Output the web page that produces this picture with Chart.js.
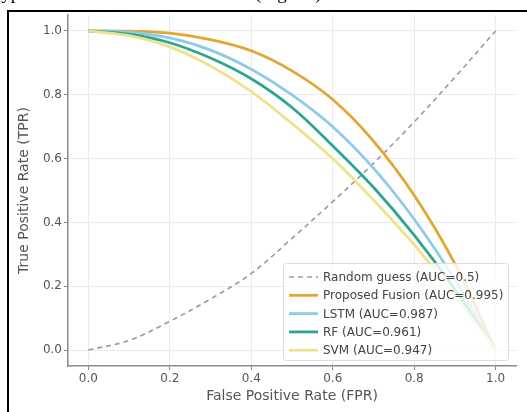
<!DOCTYPE html>
<html>
<head>
<meta charset="utf-8">
<script src="https://cdn.jsdelivr.net/npm/chart.js@4"></script>
<style>
  html, body { margin: 0; padding: 0; background: #fff; }
  body { width: 527px; height: 412px; position: relative; overflow: hidden; }
  #roc { position: absolute; left: 0; top: 0; }
  .frame { position: absolute; left: 7px; top: 10px; width: 600px; height: 500px;
           border-left: 2px solid #000; border-top: 2px solid #000; pointer-events: none; }
  .clip { position: absolute; top: -18px; font: 19px "Liberation Serif", serif; color: #000; white-space: nowrap; }
</style>
</head>
<body>
<canvas id="roc" width="527" height="412"></canvas>
<div class="clip" style="left:-4px">typ</div>
<div class="clip" style="left:255px">(Fig. 10)</div>
<div class="frame"></div>
<script>
// FPR grid shared by every curve
const fprGrid = [0.0, 0.1, 0.2, 0.3, 0.4, 0.5, 0.6, 0.7, 0.8, 0.9, 1.0];

// TPR
const randomTpr = [0.0, 0.03, 0.09, 0.16, 0.24, 0.35, 0.465, 0.585, 0.715, 0.855, 1.0];
const fusionTpr = [1.0, 0.999, 0.993, 0.973, 0.938, 0.875, 0.785, 0.655, 0.485, 0.27, 0.0];
const lstmTpr   = [1.0, 0.996, 0.978, 0.94, 0.88, 0.80, 0.70, 0.57, 0.41, 0.22, 0.0];
const rfTpr     = [1.0, 0.99, 0.963, 0.915, 0.85, 0.76, 0.64, 0.51, 0.36, 0.19, 0.0];
const svmTpr    = [1.0, 0.985, 0.95, 0.89, 0.81, 0.71, 0.60, 0.47, 0.33, 0.17, 0.0];

const seriesLabels = [
    'Random guess (AUC=0.5)',
    'Proposed Fusion (AUC=0.995)',
    'LSTM (AUC=0.987)',
    'RF (AUC=0.961)',
    'SVM (AUC=0.947)'
];
const axisTicks = [0.0, 0.2, 0.4, 0.6, 0.8, 1.0];

const colors = ['#9a9a9a', '#e3a632', '#8ecbea', '#2fa58e', '#efe28c'];
const allTpr = [randomTpr, fusionTpr, lstmTpr, rfTpr, svmTpr];

function toPoints(ys) {
    return fprGrid.map((x, i) => ({ x: x, y: ys[i] }));
}

const datasets = allTpr.map((ys, i) => ({
    label: seriesLabels[i],
    data: toPoints(ys),
    showLine: true,
    borderColor: colors[i],
    backgroundColor: colors[i],
    borderWidth: i === 0 ? 1.6 : 2.8,
    borderDash: i === 0 ? [5, 4] : [],
    pointRadius: 0,
    tension: 0.35,
    order: allTpr.length - i   // later series on top, like matplotlib
}));

// legend box in the lower right corner of the plot
const boxLegend = {
    id: 'boxLegend',
    afterDraw(chart) {
        const ctx = chart.ctx;
        const area = chart.chartArea;
        const w = 225, h = 97;
        const x0 = area.right - 8 - w;
        const y0 = area.bottom - 6 - h;
        ctx.save();
        ctx.fillStyle = 'rgba(255,255,255,0.8)';
        ctx.strokeStyle = '#dddddd';
        ctx.lineWidth = 1;
        ctx.beginPath();
        ctx.roundRect(x0 + 0.5, y0 + 0.5, w, h, 3);
        ctx.fill();
        ctx.stroke();
        ctx.font = '12px "DejaVu Sans"';
        ctx.textBaseline = 'middle';
        chart.data.datasets.forEach((ds, i) => {
            const yy = y0 + 14 + i * 18.3;
            ctx.strokeStyle = ds.borderColor;
            ctx.lineWidth = ds.borderWidth;
            ctx.setLineDash(ds.borderDash);
            ctx.beginPath();
            ctx.moveTo(x0 + 6, yy);
            ctx.lineTo(x0 + 35, yy);
            ctx.stroke();
            ctx.setLineDash([]);
            ctx.fillStyle = '#444';
            ctx.fillText(ds.label, x0 + 40, yy + 1);
        });
        ctx.restore();
    }
};

function axis(title, fit, titlePad) {
    return {
        type: 'linear',
        min: -0.05,
        max: 1.05,
        afterBuildTicks: s => { s.ticks = axisTicks.map(v => ({ value: v })); },
        afterFit: fit,
        ticks: {
            callback: v => v.toFixed(1),
            color: '#555',
            font: { family: 'DejaVu Sans', size: 12 },
            padding: 2
        },
        grid: {
            color: '#ebebeb',
            lineWidth: 1,
            tickColor: '#888',
            tickLength: 4
        },
        border: { color: '#8a8a8a', width: 1.5 },
        title: {
            display: true,
            text: title,
            color: '#555',
            font: { family: 'DejaVu Sans', size: 14 },
            padding: titlePad
        }
    };
}

new Chart(document.getElementById('roc'), {
    type: 'scatter',
    data: { datasets: datasets },
    options: {
        responsive: false,
        animation: false,
        devicePixelRatio: 1,
        layout: { padding: { top: 15, right: 11, left: 0, bottom: 0 } },
        plugins: {
            legend: { display: false },
            tooltip: { enabled: false }
        },
        scales: {
            x: axis('False Positive Rate (FPR)', s => { s.height = 46; }, { top: 7, bottom: 7 }),
            y: axis('True Positive Rate (TPR)', s => { s.width = 68; }, { top: 16, bottom: 0 })
        }
    },
    plugins: [boxLegend]
});
</script>
</body>
</html>
